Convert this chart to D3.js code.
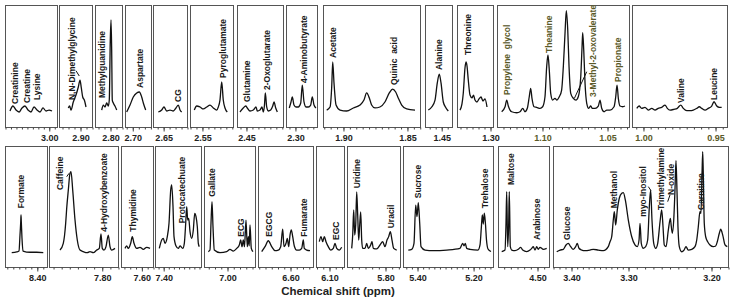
<!DOCTYPE html>
<html>
<head>
<meta charset="utf-8">
<script src="https://cdn.jsdelivr.net/npm/d3@7"></script>
<style>
body { margin: 0; background: #fff; }
svg { display: block; font-family: "Liberation Sans", Arial, sans-serif; }
</style>
</head>
<body>
<script>
// spectra: [ppm, intensity (0-100 of panel height)]
const creatSpec = [[3.0709,13.1],[3.0654,17.2],[3.0599,13.9],[3.0544,12.3],[3.0489,15.6],[3.0435,17.2],[3.038,13.9],[3.0325,12.3],[3.027,16.4],[3.0215,13.9],[3.016,12.3],[3.0106,15.6],[3.0051,13.1],[2.9996,13.9],[2.9941,13.1]];
const dmgSpec = [[2.9195,15.6],[2.9172,17.2],[2.915,13.9],[2.9112,20.5],[2.9067,26.2],[2.9028,32.8],[2.90,38.5],[2.8978,32.0],[2.8955,24.6],[2.8928,22.1],[2.89,16.4]];
const mguaSpec = [[2.8138,13.9],[2.8112,18.0],[2.8083,16.4],[2.8055,19.7],[2.8028,17.2],[2.8012,22.1],[2.7995,71.3],[2.7983,87.7],[2.7972,63.1],[2.7962,22.1],[2.7945,19.7],[2.7917,17.2],[2.7888,13.9]];
const aspSpec = [[2.7092,12.3],[2.7037,18.0],[2.6983,24.6],[2.6926,27.9],[2.6883,28.7],[2.6844,24.6],[2.6817,19.7],[2.6778,13.9]];
const cgSpec = [[2.6581,12.3],[2.6524,13.9],[2.6486,16.4],[2.644,13.1],[2.6385,13.9],[2.633,13.1],[2.6285,15.6],[2.6246,18.0],[2.6217,13.9],[2.6189,12.3]];
const pyroSpec = [[2.5628,13.9],[2.5588,17.2],[2.5533,16.4],[2.5477,14.8],[2.542,16.4],[2.5365,18.0],[2.531,15.6],[2.5253,13.9],[2.5226,16.4],[2.5198,22.1],[2.5169,36.9],[2.5143,22.1],[2.5114,15.6],[2.5076,12.3]];
const glnSpec = [[2.46,12.3],[2.4545,15.6],[2.4504,17.2],[2.4478,15.6],[2.4432,13.1],[2.4377,13.9],[2.4332,16.4],[2.431,13.1],[2.4265,13.9],[2.4232,16.4],[2.421,12.3],[2.419,18.0],[2.4176,27.9],[2.4153,16.4],[2.4126,13.1],[2.4086,13.9],[2.4052,17.2],[2.403,20.5],[2.4002,15.6],[2.3975,12.3]];
const gabaSpec = [[2.3095,15.6],[2.3066,20.5],[2.3044,24.6],[2.3016,18.0],[2.2982,16.4],[2.2944,16.4],[2.2903,19.7],[2.2877,34.4],[2.2848,20.5],[2.2815,16.4],[2.2776,16.4],[2.2736,18.0],[2.2709,24.6],[2.268,18.0],[2.2647,15.6]];
const acetSpec = [[1.9127,13.9],[1.9101,16.4],[1.9088,32.8],[1.908,53.3],[1.907,36.1],[1.9054,18.0],[1.9023,13.9],[1.8971,13.1],[1.8919,15.6],[1.8867,18.0],[1.8836,22.1],[1.8815,27.9],[1.8794,23.8],[1.8776,18.0],[1.875,15.6],[1.8711,16.4],[1.8672,20.5],[1.8638,27.9],[1.8612,31.1],[1.8588,28.7],[1.8568,23.8],[1.8541,18.0],[1.8502,14.8],[1.8437,13.9]];
const alaSpec = [[1.4715,13.9],[1.4658,16.4],[1.4603,22.1],[1.4565,36.1],[1.4532,43.4],[1.4503,36.1],[1.4465,20.5],[1.442,15.6],[1.4382,13.1]];
const thrSpec = [[1.35,13.9],[1.3467,18.9],[1.3445,27.9],[1.3417,48.4],[1.34,53.3],[1.3383,50.0],[1.3362,38.5],[1.3333,26.2],[1.33,23.8],[1.3275,26.2],[1.325,22.1],[1.3217,20.5],[1.3183,23.0],[1.315,24.6],[1.3117,21.3],[1.3083,23.0],[1.305,16.4]];
const pgSpec = [[1.131,12.5],[1.1284,16.6],[1.1271,22.1],[1.1259,17.2],[1.1233,12.5],[1.1194,11.7],[1.1169,12.5],[1.1148,15.3],[1.1131,12.5],[1.1113,15.3],[1.1098,24.8],[1.1087,31.7],[1.1077,23.5],[1.1061,16.6],[1.1041,16.1],[1.1015,15.3],[1.0995,16.6],[1.0977,24.8],[1.0964,49.4],[1.0954,59.0],[1.0944,46.7],[1.0933,27.6],[1.0918,22.1],[1.09,23.5],[1.0887,22.1],[1.0867,24.8],[1.0849,30.3],[1.0836,49.4],[1.0823,76.8],[1.0813,95.3],[1.0802,79.5],[1.0792,49.4],[1.0779,27.6],[1.0759,23.5],[1.0739,22.1],[1.0721,24.8],[1.0702,41.2],[1.0692,65.8],[1.0687,77.3],[1.0679,63.1],[1.0669,35.8],[1.0656,19.4],[1.0641,15.3],[1.0625,17.2],[1.0613,15.3],[1.0592,15.3],[1.0567,17.2],[1.0554,22.1],[1.0541,15.3],[1.0523,12.5],[1.0502,13.9],[1.0477,13.9],[1.0446,16.6],[1.0433,24.8],[1.0423,34.4],[1.0413,23.5],[1.04,17.2],[1.0379,16.6],[1.0362,17.2]];
const valSpec = [[1.0043,15.3],[1.0027,17.2],[1.0009,15.3],[0.9986,16.1],[0.9963,13.9],[0.9939,15.3],[0.9916,13.9],[0.9894,15.3],[0.987,16.1],[0.9847,18.0],[0.9831,15.3],[0.9812,13.9],[0.9785,14.5],[0.9762,15.3],[0.9738,18.0],[0.972,15.3],[0.9696,13.4],[0.9674,13.4],[0.9651,13.9],[0.9627,15.3],[0.9609,16.6],[0.9592,15.3],[0.9569,13.9],[0.9547,15.3],[0.9523,17.2],[0.9507,20.7],[0.9488,17.2],[0.947,16.1],[0.9454,16.1]];

const formSpec = [[8.4418,11.8],[8.4335,12.4],[8.4297,13.2],[8.428,26.4],[8.4268,37.2],[8.4263,43.0],[8.4258,37.2],[8.4247,24.0],[8.423,13.2],[8.4113,12.2],[8.4002,12.2],[8.3892,11.8]];
const cafSpec = [[7.9029,14.0],[7.8948,19.6],[7.8889,36.1],[7.8864,48.5],[7.8824,63.6],[7.8783,77.4],[7.8758,78.8],[7.8716,63.6],[7.8659,38.8],[7.8603,22.3],[7.8536,14.0],[7.8455,12.7],[7.8356,11.8],[7.829,12.7],[7.8208,11.8],[7.8125,14.0],[7.8061,15.4],[7.8019,27.3],[7.7987,15.4],[7.7945,14.0],[7.7896,16.8],[7.7839,26.4],[7.7797,16.8],[7.7755,14.0],[7.7674,15.4]];
const thySpec = [[7.6563,15.4],[7.6504,17.4],[7.6449,15.4],[7.6367,19.6],[7.6312,25.1],[7.6253,19.6],[7.616,15.4],[7.6047,16.3],[7.5933,14.6],[7.5816,16.3],[7.5703,15.4]];
const protoSpec = [[7.419,15.4],[7.4072,22.3],[7.3994,23.7],[7.3911,19.6],[7.3798,25.1],[7.3715,36.1],[7.3632,63.6],[7.3583,67.8],[7.3519,49.9],[7.347,25.1],[7.3372,17.4],[7.326,15.4],[7.3177,17.4],[7.3044,15.4],[7.2966,19.6],[7.2898,36.1],[7.2849,49.9],[7.28,38.8],[7.2751,40.2],[7.2687,29.2],[7.2604,23.7],[7.2526,30.6],[7.2457,44.3],[7.2394,41.6],[7.233,33.3],[7.2281,19.6],[7.2232,16.8]];
const galSpec = [[7.0748,12.7],[7.068,14.0],[7.064,36.1],[7.06,54.1],[7.056,33.3],[7.0508,14.0],[7.028,11.8],[7.0012,12.7],[6.988,14.6],[6.9748,13.2],[6.9612,15.4],[6.9508,18.2],[6.9452,22.3],[6.94,16.8],[6.9348,22.3],[6.93,16.8],[6.924,38.8],[6.9188,16.8],[6.9148,25.1],[6.9112,17.4],[6.908,34.7],[6.9028,15.4],[6.896,12.7]];
const egcgSpec = [[6.7132,12.7],[6.70,16.8],[6.6868,21.7],[6.6732,16.8],[6.66,13.5],[6.6468,14.0],[6.6372,16.8],[6.6292,31.2],[6.624,16.8],[6.616,19.6],[6.6108,23.7],[6.6052,16.8],[6.60,26.4],[6.5948,30.6],[6.5892,25.1],[6.5828,17.4],[6.5732,14.0],[6.5628,14.0],[6.5532,15.4],[6.5468,22.3],[6.5428,15.4],[6.5332,14.0],[6.52,13.5]];
const egcSpec = [[6.1388,20.9],[6.132,25.1],[6.1252,20.9],[6.1188,25.1],[6.112,20.9],[6.1028,16.8],[6.0932,14.0],[6.0828,15.4],[6.076,19.6],[6.0692,15.4],[6.0588,14.0],[6.0492,16.3]];
const uriSpec = [[5.8999,15.4],[5.8969,26.4],[5.8939,47.1],[5.8909,26.4],[5.8879,34.7],[5.8849,62.0],[5.8819,43.0],[5.8789,22.3],[5.8759,34.7],[5.8729,45.5],[5.8699,22.3],[5.8669,15.4],[5.86,15.4],[5.8549,19.6],[5.8501,15.4],[5.8429,18.2],[5.839,20.9],[5.8351,15.4],[5.8249,14.9],[5.815,18.2],[5.8069,20.9],[5.80,16.8],[5.794,22.3],[5.7889,25.1],[5.7841,29.2],[5.779,22.3],[5.7739,15.4],[5.7649,14.0]];
const sucSpec = [[5.4311,14.0],[5.419,14.6],[5.4108,19.6],[5.4047,51.2],[5.4001,41.6],[5.3954,53.1],[5.3904,36.1],[5.3858,16.8],[5.3715,14.0],[5.3419,13.5],[5.2941,14.0],[5.2467,15.4],[5.237,19.6],[5.2324,17.4],[5.2278,19.6],[5.2228,15.4],[5.211,14.6],[5.1825,14.0],[5.1753,18.2],[5.1707,32.2],[5.1671,43.0],[5.1636,35.5],[5.16,44.6],[5.1564,37.2],[5.1522,22.3],[5.1468,14.9],[5.1361,12.8]];
const malSpec = [[4.6059,12.7],[4.596,14.0],[4.593,36.1],[4.5909,62.2],[4.5879,16.8],[4.5849,36.1],[4.5831,62.2],[4.5801,16.8],[4.5759,14.0],[4.566,13.5],[4.5561,14.6],[4.5489,16.3],[4.5429,14.0],[4.5309,12.7],[4.521,14.0],[4.5159,15.4],[4.5111,16.8],[4.506,14.0],[4.5009,16.8],[4.4961,14.6],[4.491,16.3],[4.4811,14.6],[4.4709,15.4]];
const glcSpec = [[3.4238,12.6],[3.4183,14.0],[3.4128,14.6],[3.4083,18.2],[3.4045,19.6],[3.4005,16.8],[3.396,14.6],[3.3918,16.8],[3.389,19.6],[3.386,15.5],[3.3812,14.0],[3.3754,13.5],[3.3667,14.0],[3.3609,14.6],[3.3521,14.0],[3.3433,13.5],[3.3346,16.8],[3.3316,20.9],[3.3286,25.0],[3.3258,38.8],[3.324,45.7],[3.3216,34.7],[3.3188,47.1],[3.3153,56.8],[3.311,60.9],[3.3082,61.4],[3.3047,55.4],[3.2996,38.8],[3.2955,25.0],[3.2916,18.2],[3.2888,16.8],[3.2867,22.3],[3.2855,36.1],[3.284,19.6],[3.2816,15.5],[3.2787,16.8],[3.2763,22.3],[3.2743,49.8],[3.2727,63.6],[3.2711,38.8],[3.269,19.6],[3.2666,15.5],[3.2642,19.6],[3.2614,37.4],[3.2594,47.1],[3.2578,33.3],[3.2563,18.2],[3.2542,16.8],[3.2514,30.6],[3.249,40.2],[3.2478,33.3],[3.2466,27.9],[3.2449,38.8],[3.2434,63.6],[3.2422,87.9],[3.241,63.6],[3.2398,33.3],[3.2382,16.8],[3.2353,12.6],[3.2325,14.0],[3.2301,16.8],[3.2274,14.0],[3.2233,14.6],[3.2193,16.8],[3.2172,22.3],[3.2153,33.3],[3.2133,45.7],[3.2121,44.4],[3.2108,77.4],[3.21,95.3],[3.2093,77.4],[3.2081,36.1],[3.2064,25.0],[3.204,20.9],[3.2012,18.2],[3.1973,16.8],[3.1945,17.4],[3.1926,20.9],[3.1902,27.9],[3.1886,31.2],[3.1862,26.4],[3.1835,18.2],[3.1808,16.8]];

// metabolite labels: [name, ppm, intensity where the text starts]
const creatLabels = [["Creatinine",3.0617,18.9],["Creatine",3.0404,19.7],["Lysine",3.021,22.1]];
const dmgLabels = [["N,N-Dimethylglycine",2.9138,22.1]];
const mguaLabels = [["Methylguanidine",2.8138,23.8]];
const aspLabels = [["Aspartate",2.6872,32.0]];
const cgLabels = [["CG",2.6246,20.5]];
const pyroLabels = [["Pyroglutamate",2.5153,40.2]];
const glnLabels = [["Glutamine",2.4488,20.5],["2-Oxoglutarate",2.4153,30.3]];
const gabaLabels = [["4-Aminobutyrate",2.2848,36.1]];
const acetLabels = [["Acetate",1.9076,56.6],["Quinic  acid",1.8601,34.4]];
const alaLabels = [["Alanine",1.4532,46.7]];
const thrLabels = [["Threonine",1.3362,59.0]];
const pgLabels = [["Propylene  glycol",1.1271,26.2],["Theanine",1.0946,60.7],["3-Methyl-2-oxovalerate",1.0605,24.6],["Propionate",1.0413,36.9]];
const valLabels = [["Valine",0.9738,19.7],["Leucine",0.9507,22.1]];
const formLabels = [["Formate",8.4268,48.5]];
const cafLabels = [["Caffeine",7.9029,63.6],["4-Hydroxybenzoate",7.7945,29.2]];
const thyLabels = [["Thymidine",7.6298,29.2]];
const protoLabels = [["Protocatechuate",7.3093,36.1]];
const galLabels = [["Gallate",7.0588,58.1],["ECG",6.9452,25.0]];
const egcgLabels = [["EGCG",6.684,25.0],["Fumarate",6.5428,25.0]];
const egcLabels = [["EGC",6.0732,22.3]];
const uriLabels = [["Uridine",5.8849,65.0],["Uracil",5.7829,32.0]];
const sucLabels = [["Sucrose",5.3954,56.8],["Trehalose",5.1575,48.5]];
const malLabels = [["Maltose",4.5789,67.8],["Arabinose",4.5009,22.3]];
const glcLabels = [["Glucose",3.4062,22.3],["Methanol",3.324,48.5],["myo-Inositol",3.2816,41.6],["Trimethylamine",3.2606,47.1],["N-oxide",3.2486,59.5],["Carnitine",3.2124,47.1]];

// pointer lines [ppm1, int1, ppm2, int2]
const dmgLeaders = [[2.9067,46.1,2.9012,41.8]];
const cafLeaders = [[7.8864,74.6,7.8807,77.4]];
const pgLeaders = [[1.0656,45.3,1.0751,23.5]];
const glcLeaders = [[3.2755,66.4,3.2723,63.1],[3.2522,54.0,3.2494,59.5]];

// tick labels
const creatTicks = [3.00], dmgTicks = [2.90], mguaTicks = [2.80], aspTicks = [2.70], cgTicks = [2.65];
const pyroTicks = [2.55], glnTicks = [2.45], gabaTicks = [2.30], acetTicks = [1.90, 1.85];
const alaTicks = [1.45], thrTicks = [1.30], pgTicks = [1.10, 1.05], valTicks = [1.00, 0.95];
const formTicks = [8.40], cafTicks = [7.80], thyTicks = [7.60], protoTicks = [7.40], galTicks = [7.00];
const egcgTicks = [6.60], egcTicks = [6.10], uriTicks = [5.80], sucTicks = [5.40, 5.20];
const malTicks = [4.50], glcTicks = [3.40, 3.30, 3.20];

const W = 732, H = 302;
const rows = { top: [127, 5], bottom: [267, 146] };
const olive = "#5a5a28";

const panels = [
  { row: "top", px: [5, 57], dom: [3.08, 2.985], spec: creatSpec, labels: creatLabels, ticks: creatTicks, minor: 0.01 },
  { row: "top", px: [59, 92], dom: [2.935, 2.88], spec: dmgSpec, labels: dmgLabels, ticks: dmgTicks, minor: 0.01, leaders: dmgLeaders },
  { row: "top", px: [95, 122], dom: [2.825, 2.78], spec: mguaSpec, labels: mguaLabels, ticks: mguaTicks, minor: 0.01 },
  { row: "top", px: [125, 151], dom: [2.712, 2.669], spec: aspSpec, labels: aspLabels, ticks: aspTicks, minor: 0.01 },
  { row: "top", px: [153, 187], dom: [2.667, 2.61], spec: cgSpec, labels: cgLabels, ticks: cgTicks, minor: 0.01 },
  { row: "top", px: [190, 233], dom: [2.57, 2.498], spec: pyroSpec, labels: pyroLabels, ticks: pyroTicks, minor: 0.01 },
  { row: "top", px: [237, 283], dom: [2.465, 2.388], spec: glnSpec, labels: glnLabels, ticks: glnTicks, minor: 0.01 },
  { row: "top", px: [286, 317], dom: [2.315, 2.263], spec: gabaSpec, labels: gabaLabels, ticks: gabaTicks, minor: 0.01 },
  { row: "top", px: [323, 420], dom: [1.9156, 1.8398], spec: acetSpec, labels: acetLabels, ticks: acetTicks, minor: 0.005 },
  { row: "top", px: [425, 452], dom: [1.477, 1.432], spec: alaSpec, labels: alaLabels, ticks: alaTicks, minor: 0.01 },
  { row: "top", px: [457, 493], dom: [1.355, 1.295], spec: thrSpec, labels: thrLabels, ticks: thrTicks, minor: 0.01 },
  { row: "top", px: [497, 629], dom: [1.1346, 1.0331], spec: pgSpec, labels: pgLabels, ticks: pgTicks, minor: 0.005, leaders: pgLeaders, tint: true },
  { row: "top", px: [632, 727], dom: [1.0076, 0.9417], spec: valSpec, labels: valLabels, ticks: valTicks, minor: 0.005, tintTicks: true },
  { row: "bottom", px: [5, 47], dom: [8.453, 8.383], spec: formSpec, labels: formLabels, ticks: formTicks, minor: 0.01 },
  { row: "bottom", px: [49, 118], dom: [7.93, 7.76], spec: cafSpec, labels: cafLabels, ticks: cafTicks, minor: 0.02, leaders: cafLeaders },
  { row: "bottom", px: [121, 153], dom: [7.67, 7.56], spec: thySpec, labels: thyLabels, ticks: thyTicks, minor: 0.02 },
  { row: "bottom", px: [155, 201], dom: [7.44, 7.215], spec: protoSpec, labels: protoLabels, ticks: protoTicks, minor: 0.025 },
  { row: "bottom", px: [204, 255], dom: [7.092, 6.888], spec: galSpec, labels: galLabels, ticks: galTicks, minor: 0.025 },
  { row: "bottom", px: [258, 313], dom: [6.728, 6.508], spec: egcgSpec, labels: egcgLabels, ticks: egcgTicks, minor: 0.025 },
  { row: "bottom", px: [316, 344], dom: [6.152, 6.04], spec: egcSpec, labels: egcLabels, ticks: egcTicks, minor: 0.025 },
  { row: "bottom", px: [347, 400], dom: [5.914, 5.755], spec: uriSpec, labels: uriLabels, ticks: uriTicks, minor: 0.02 },
  { row: "bottom", px: [403, 493], dom: [5.45, 5.129], spec: sucSpec, labels: sucLabels, ticks: sucTicks, minor: 0.02 },
  { row: "bottom", px: [498, 549], dom: [4.617, 4.464], spec: malSpec, labels: malLabels, ticks: malTicks, minor: 0.02 },
  { row: "bottom", px: [553, 571, 628, 711, 728], dom: [3.43, 3.40, 3.30, 3.20, 3.18], spec: glcSpec, labels: glcLabels, ticks: glcTicks, minor: 0.01, leaders: glcLeaders }
];

const svg = d3.select("body").append("svg")
  .attr("width", W)
  .attr("height", H);

svg.append("rect").attr("width", W).attr("height", H).attr("fill", "#fff");

function minorTicks(dom, step) {
  const [lo, hi] = d3.extent(dom);
  const out = [];
  for (let i = Math.ceil(lo / step - 1e-6); i * step <= hi + 1e-9; i++) out.push(+(i * step).toFixed(4));
  return out;
}

panels.forEach(p => {
  const [yb, yt] = rows[p.row];
  const x = d3.scaleLinear().domain(p.dom).range(p.px);
  const y = d3.scaleLinear().domain([0, 100]).range([yb, yt]);
  const x0 = p.px[0], x1 = p.px[p.px.length - 1];
  const g = svg.append("g");

  g.append("rect")
    .attr("x", x0 + 0.5).attr("y", yt + 0.5)
    .attr("width", x1 - x0).attr("height", yb - yt)
    .attr("fill", "none").attr("stroke", "#555").attr("stroke-width", 1);

  // minor ticks
  g.append("g")
    .attr("transform", `translate(0.5, ${yb + 0.5})`)
    .call(d3.axisBottom(x).tickValues(minorTicks(p.dom, p.minor)).tickSize(2).tickFormat(""))
    .call(a => a.select(".domain").remove())
    .call(a => a.selectAll("line").attr("stroke", "#444"));

  // labelled ticks
  g.append("g")
    .attr("transform", `translate(0.5, ${yb + 0.5})`)
    .call(d3.axisBottom(x).tickValues(p.ticks).tickSize(4).tickFormat(d3.format(".2f")))
    .call(a => a.select(".domain").remove())
    .call(a => a.selectAll("line").attr("stroke", "#444"))
    .call(a => a.selectAll("text")
      .attr("font-size", 9).attr("font-weight", "bold")
      .attr("font-family", "Liberation Sans, Arial, sans-serif")
      .attr("fill", (p.tint || p.tintTicks) ? olive : "#222"));

  const line = d3.line()
    .x(d => x(d[0]))
    .y(d => y(d[1]))
    .curve(d3.curveMonotoneX);

  g.append("path")
    .datum(p.spec)
    .attr("d", line)
    .attr("fill", "none")
    .attr("stroke", "#111")
    .attr("stroke-width", 1.3)
    .attr("stroke-linejoin", "round");

  if (p.leaders) {
    g.selectAll("line.lead").data(p.leaders).join("line")
      .attr("class", "lead")
      .attr("x1", d => x(d[0])).attr("y1", d => y(d[1]))
      .attr("x2", d => x(d[2])).attr("y2", d => y(d[3]))
      .attr("stroke", "#111").attr("stroke-width", 1);
  }

  g.selectAll("text.lab").data(p.labels).join("text")
    .attr("class", "lab")
    .attr("transform", d => `translate(${x(d[1])}, ${y(d[2])}) rotate(-90)`)
    .attr("dy", "0.35em")
    .attr("font-size", 8.5)
    .attr("font-weight", "bold")
    .attr("fill", p.tint ? olive : "#1a1a1a")
    .style("white-space", "pre")
    .text(d => d[0]);
});

svg.append("text")
  .attr("x", 338).attr("y", 295)
  .attr("text-anchor", "middle")
  .attr("font-size", 11.5)
  .attr("font-weight", "bold")
  .attr("fill", "#222")
  .text("Chemical shift (ppm)");
</script>
</body>
</html>
